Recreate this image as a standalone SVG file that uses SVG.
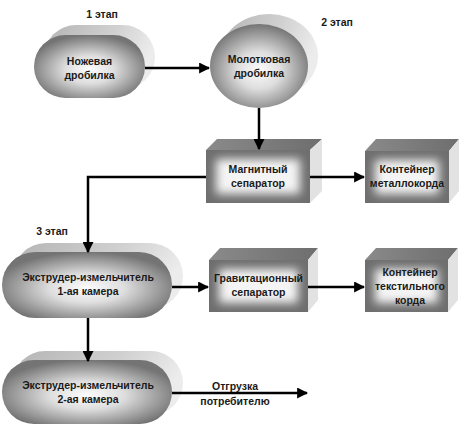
<svg xmlns="http://www.w3.org/2000/svg" width="467" height="431" viewBox="0 0 467 431">
<style>
text{font-family:"Liberation Sans",Arial,sans-serif;font-weight:bold;font-size:10.5px;fill:#1a1a1a;text-anchor:middle}
.back{fill:url(#gBack)}
.front{fill:url(#gFront)}
.bfront{fill:#6e6e6e}
.binner{fill:#f4f4f4;filter:url(#blur)}
.btop{fill:url(#gTop)}
.bside{fill:#e2e2e2}
.ln{stroke:#000;stroke-width:2.5;fill:none}
</style>
<defs>
<linearGradient id="gBack" x1="0" y1="0" x2="1" y2="0.3">
<stop offset="0" stop-color="#b4b4b4"/>
<stop offset="0.6" stop-color="#d0d0d0"/>
<stop offset="1" stop-color="#ececec"/>
</linearGradient>
<radialGradient id="gFront" cx="0.5" cy="0.55" r="0.55">
<stop offset="0" stop-color="#fcfcfc"/>
<stop offset="0.4" stop-color="#dedede"/>
<stop offset="1" stop-color="#747474"/>
</radialGradient>
<linearGradient id="gTop" x1="0" y1="0" x2="1" y2="0">
<stop offset="0" stop-color="#8a8a8a"/>
<stop offset="1" stop-color="#6e6e6e"/>
</linearGradient>
<filter id="blur" x="-0.5" y="-0.5" width="2" height="2"><feGaussianBlur stdDeviation="5"/></filter>
<clipPath id="c1"><rect x="206" y="150" width="104" height="53"/></clipPath>
<clipPath id="c2"><rect x="365" y="151" width="84" height="52"/></clipPath>
<clipPath id="c3"><rect x="209" y="260" width="99" height="52"/></clipPath>
<clipPath id="c4"><rect x="365" y="260" width="83" height="52"/></clipPath>
<marker id="ah" viewBox="0 0 10 10" refX="9" refY="5" markerWidth="4.4" markerHeight="4.4" orient="auto" markerUnits="strokeWidth">
<path d="M0,0 L10,5 L0,10 Z" fill="#000"/>
</marker>
</defs>

<g id="labels">
<text x="102" y="18">1 этап</text>
<text x="337" y="26">2 этап</text>
<text x="52" y="235">3 этап</text>
</g>

<g id="n1">
<rect class="back" x="44" y="25" width="111" height="64" rx="32"/>
<rect class="front" x="34" y="35" width="111" height="63" rx="31.5"/>
<text x="89.5" y="65">Ножевая</text>
<text x="89.5" y="79">дробилка</text>
</g>

<g id="n2">
<ellipse class="back" cx="269" cy="56" rx="49" ry="42"/>
<ellipse class="front" cx="259" cy="66" rx="49" ry="42"/>
<text x="259" y="63">Молотковая</text>
<text x="259" y="77">дробилка</text>
</g>

<g id="n3">
<polygon class="btop" points="206,150 217,139 322,139 310,150"/>
<polygon class="bside" points="310,150 322,139 322,191 310,203"/>
<rect class="bfront" x="206" y="150" width="104" height="53"/>
<g clip-path="url(#c1)"><rect class="binner" x="216" y="159" width="84" height="35"/></g>
<text x="258" y="173">Магнитный</text>
<text x="258" y="187">сепаратор</text>
</g>

<g id="n4">
<polygon class="btop" points="365,151 376,139 459,139 449,151"/>
<polygon class="bside" points="449,151 459,139 459,191 449,203"/>
<rect class="bfront" x="365" y="151" width="84" height="52"/>
<g clip-path="url(#c2)"><rect class="binner" x="375" y="160" width="64" height="34"/></g>
<text x="407" y="173">Контейнер</text>
<text x="407" y="187">металлокорда</text>
</g>

<g id="n5">
<rect class="back" x="13" y="243" width="170" height="66" rx="33"/>
<rect class="front" x="2" y="252" width="170" height="66" rx="33"/>
<text x="88" y="281">Экструдер-измельчитель</text>
<text x="88" y="295">1-ая камера</text>
</g>

<g id="n6">
<polygon class="btop" points="209,260 220,248 318,248 308,260"/>
<polygon class="bside" points="308,260 318,248 318,300 308,312"/>
<rect class="bfront" x="209" y="260" width="99" height="52"/>
<g clip-path="url(#c3)"><rect class="binner" x="219" y="269" width="79" height="34"/></g>
<text x="258.5" y="282">Гравитационный</text>
<text x="258.5" y="296">сепаратор</text>
</g>

<g id="n7">
<polygon class="btop" points="365,260 376,248 458,248 448,260"/>
<polygon class="bside" points="448,260 458,248 458,300 448,312"/>
<rect class="bfront" x="365" y="260" width="83" height="52"/>
<g clip-path="url(#c4)"><rect class="binner" x="375" y="269" width="63" height="34"/></g>
<text x="410" y="276">Контейнер</text>
<text x="410" y="290">текстильного</text>
<text x="410" y="304">корда</text>
</g>

<g id="n8">
<rect class="back" x="13" y="351" width="170" height="64" rx="32"/>
<rect class="front" x="2" y="360" width="170" height="64" rx="32"/>
<text x="88" y="389">Экструдер-измельчитель</text>
<text x="88" y="403">2-ая камера</text>
</g>

<g id="connectors">
<line class="ln" x1="145" y1="68" x2="209" y2="68" marker-end="url(#ah)"/>
<line class="ln" x1="259" y1="108" x2="259" y2="149" marker-end="url(#ah)"/>
<line class="ln" x1="310" y1="177" x2="364" y2="177" marker-end="url(#ah)"/>
<polyline class="ln" points="206,177 88,177 88,252" marker-end="url(#ah)"/>
<line class="ln" x1="172" y1="287" x2="208" y2="287" marker-end="url(#ah)"/>
<line class="ln" x1="308" y1="287" x2="364" y2="287" marker-end="url(#ah)"/>
<line class="ln" x1="88" y1="318" x2="88" y2="361" marker-end="url(#ah)"/>
<line class="ln" x1="172" y1="393" x2="307" y2="393" marker-end="url(#ah)"/>
<text x="235" y="390">Отгрузка</text>
<text x="235" y="405">потребителю</text>
</g>
</svg>
